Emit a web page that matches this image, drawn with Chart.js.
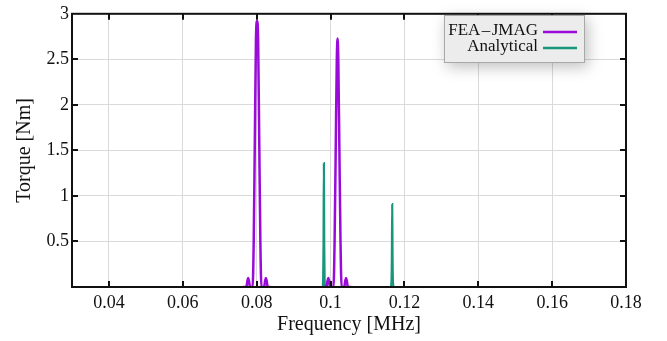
<!DOCTYPE html>
<html>
<head>
<meta charset="utf-8">
<script src="https://cdn.jsdelivr.net/npm/chart.js@4/dist/chart.umd.min.js"></script>
<style>
html,body{margin:0;padding:0;background:#fff;}
#wrap{width:667px;height:341px;position:relative;}
</style>
</head>
<body>
<div id="wrap"><canvas id="c" width="667" height="341"></canvas></div>
<script>
// ---- data ----
const xTicks = [0.04, 0.06, 0.08, 0.10, 0.12, 0.14, 0.16, 0.18];
const yTicks = [0.5, 1, 1.5, 2, 2.5, 3];

// FEA - JMAG (purple) : two main lobes with small side lobes
const feaFreq = [
  0.0763, 0.0772, 0.0775, 0.0777, 0.0779, 0.0782, 0.0789, 0.0792, 0.0795, 0.0798, 0.0801, 0.0804, 0.0807, 0.0810, 0.0813, 0.0820, 0.0823, 0.0825, 0.0827, 0.0830, 0.0838,
  null,
  0.0981, 0.0989, 0.0992, 0.0994, 0.0996, 0.0999, 0.1008, 0.1011, 0.1014, 0.1017, 0.1019, 0.1021, 0.1024, 0.1027, 0.1030, 0.1037, 0.1040, 0.1042, 0.1044, 0.1047, 0.1056
];
const feaTorque = [
  0, 0, 0.07, 0.10, 0.07, 0, 0, 0.5, 1.6, 2.7, 2.92, 2.7, 1.6, 0.5, 0, 0, 0.07, 0.10, 0.07, 0, 0,
  null,
  0, 0, 0.07, 0.10, 0.07, 0, 0, 0.5, 1.5, 2.5, 2.73, 2.5, 1.5, 0.5, 0, 0, 0.07, 0.10, 0.07, 0, 0
];

// Analytical (green) : two narrow spikes
const anaFreq = [
  0.0972, 0.0978, 0.0980, 0.0981, 0.0982, 0.0983, 0.0984, 0.0986, 0.0990,
  null,
  0.1157, 0.1163, 0.1165, 0.1166, 0.1167, 0.1168, 0.1169, 0.1171, 0.1177
];
const anaTorque = [
  0, 0, 0.08, 0.45, 1.36, 0.45, 0.08, 0, 0,
  null,
  0, 0, 0.06, 0.3, 0.91, 0.3, 0.06, 0, 0
];

const seriesNames = ['FEA\u200A\u2013\u200AJMAG', 'Analytical'];
const seriesColors = ['#9a0ad8', '#16967a'];

// null entries mark a break in the trace: give them an x between neighbours and y = null
function pts(xs, ys){
  return xs.map((x,i)=> x===null ? {x:(xs[i-1]+xs[i+1])/2, y:null} : {x:x, y:ys[i]});
}

const FONT = '"Liberation Serif", "Times New Roman", serif';

const frameAndTicks = {
  id: 'frameAndTicks',
  afterDatasetsDraw(chart){
    const {ctx, chartArea:a, scales:{x, y}} = chart;
    ctx.save();
    ctx.strokeStyle = '#111';
    ctx.lineWidth = 2;
    const L = 6;
    ctx.beginPath();
    x.ticks.forEach(t=>{
      const px = Math.round(x.getPixelForValue(t.value));
      if (px < a.left+2 || px > a.right-2) return;
      ctx.moveTo(px, a.bottom); ctx.lineTo(px, a.bottom - L);
      ctx.moveTo(px, a.top); ctx.lineTo(px, a.top + L);
    });
    y.ticks.forEach(t=>{
      const py = Math.round(y.getPixelForValue(t.value));
      if (py < a.top+2 || py > a.bottom-2) return;
      ctx.moveTo(a.left, py); ctx.lineTo(a.left + L, py);
      ctx.moveTo(a.right, py); ctx.lineTo(a.right - L, py);
    });
    ctx.stroke();
    ctx.strokeRect(a.left, a.top, a.right - a.left, a.bottom - a.top);
    ctx.restore();
  }
};

const customLegend = {
  id: 'customLegend',
  afterDraw(chart){
    const ctx = chart.ctx;
    const bx = 444, by = 15, bw = 141, bh = 48;
    ctx.save();
    ctx.shadowColor = 'rgba(0,0,0,0.25)';
    ctx.shadowBlur = 14;
    ctx.shadowOffsetX = 3;
    ctx.shadowOffsetY = 4;
    ctx.fillStyle = '#ececec';
    ctx.fillRect(bx, by, bw, bh);
    ctx.restore();
    ctx.save();
    ctx.strokeStyle = '#a8a8a8';
    ctx.lineWidth = 1;
    ctx.strokeRect(bx + 0.5, by + 0.5, bw - 1, bh - 1);
    ctx.font = '17px ' + FONT;
    ctx.fillStyle = '#111';
    ctx.textAlign = 'right';
    ctx.textBaseline = 'middle';
    const rows = [31, 47];
    chart.data.datasets.forEach((ds, i)=>{
      ctx.fillText(ds.label, 538, rows[i]);
      ctx.strokeStyle = ds.borderColor;
      ctx.lineWidth = 2.5;
      ctx.beginPath();
      ctx.moveTo(543, rows[i] + 1);
      ctx.lineTo(577, rows[i] + 1);
      ctx.stroke();
    });
    ctx.restore();
  }
};

new Chart(document.getElementById('c'), {
  type: 'line',
  data: {
    datasets: [
      { label: seriesNames[0], data: pts(feaFreq, feaTorque), borderColor: seriesColors[0], backgroundColor: seriesColors[0], borderWidth: 2.5, pointRadius: 0, cubicInterpolationMode: 'monotone', spanGaps: false },
      { label: seriesNames[1], data: pts(anaFreq, anaTorque), borderColor: seriesColors[1], backgroundColor: seriesColors[1], borderWidth: 2.2, pointRadius: 0, cubicInterpolationMode: 'monotone', spanGaps: false }
    ]
  },
  options: {
    responsive: false,
    animation: false,
    parsing: false,
    layout: { padding: { top: 5, right: 41, left: 0, bottom: 0 } },
    plugins: { legend: { display: false }, tooltip: { enabled: false } },
    scales: {
      x: {
        type: 'linear', min: 0.03, max: 0.18,
        afterBuildTicks: s => { s.ticks = xTicks.map(v => ({ value: v })); },
        afterFit: s => { s.height = 54; },
        grid: { color: '#dadada', lineWidth: 1, drawTicks: false },
        border: { display: false },
        ticks: { color: '#111', font: { family: FONT, size: 18 }, padding: 5, maxRotation: 0, autoSkip: false,
                 callback: v => String(+v.toFixed(2)) },
        title: { display: true, text: 'Frequency [MHz]', color: '#111', font: { family: FONT, size: 20 }, padding: { top: 0, bottom: 4 } }
      },
      y: {
        type: 'linear', min: 0, max: 3,
        afterBuildTicks: s => { s.ticks = yTicks.map(v => ({ value: v })); },
        afterFit: s => { s.width = 72; },
        grid: { color: '#dadada', lineWidth: 1, drawTicks: false },
        border: { display: false },
        ticks: { color: '#111', font: { family: FONT, size: 18 }, padding: 3, autoSkip: false,
                 callback: v => String(v) },
        title: { display: true, text: 'Torque [Nm]', color: '#111', font: { family: FONT, size: 20 }, padding: { top: 13, bottom: 0 } }
      }
    }
  },
  plugins: [frameAndTicks, customLegend]
});
</script>
</body>
</html>
